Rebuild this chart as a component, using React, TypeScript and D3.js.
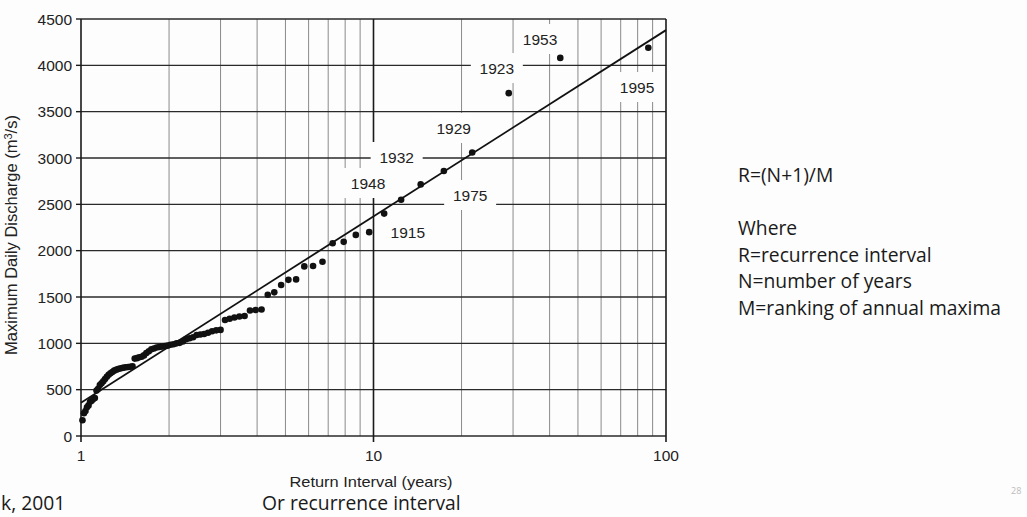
import React from 'react';
import * as d3 from 'd3';

// annual maximum daily discharge (m3/s), ranked largest first (M = 1..N)
const discharge = [
  4190, 4080, 3700, 3060, 2860, 2715, 2550, 2400, 2200, 2170,
  2095, 2080, 1880, 1835, 1830, 1690, 1685, 1630, 1550, 1525,
  1365, 1360, 1355, 1295, 1290, 1278, 1265, 1252, 1145, 1140,
  1130, 1115, 1100, 1095, 1090, 1065, 1055, 1045, 1020, 1005,
  1000, 990, 985, 975, 970, 965, 960, 955, 945, 935,
  915, 895, 870, 855, 850, 840, 835, 752, 748, 745,
  742, 738, 734, 728, 722, 715, 705, 690, 676, 660,
  640, 615, 590, 570, 550, 510, 490, 410, 400, 380,
  370, 330, 310, 270, 245, 170,
];
const nYears = discharge.length;

// fitted line: Q = a + b * log10(T)
const fitIntercept = 360;
const fitSlope = 2010;

const yTicks = [0, 500, 1000, 1500, 2000, 2500, 3000, 3500, 4000, 4500];
const xMajor = [1, 10, 100];
const xMinor = [2, 3, 4, 5, 6, 7, 8, 9, 20, 30, 40, 50, 60, 70, 80, 90];

// year annotations, anchored in data units (return interval, discharge)
const labelYears = ['1953', '1923', '1995', '1929', '1932', '1948', '1975', '1915'];
const labelT = [37.1, 26.4, 79.6, 18.8, 12.0, 9.58, 21.4, 13.1];
const labelQ = [4284, 3971, 3766, 3324, 3011, 2730, 2601, 2201];

const notes = [
  'Where',
  'R=recurrence interval',
  'N=number of years',
  'M=ranking of annual maxima',
];

const W = 1027;
const H = 517;
const chartFont = '"Liberation Sans", Arial, sans-serif';
const slideFont = '"Open Sans", "Noto Sans", sans-serif';

export default function App() {
  const x = d3.scaleLog().domain([1, 100]).range([81, 666]);
  const y = d3.scaleLinear().domain([0, 4500]).range([436, 19]);

  const points = discharge.map((q, i) => ({ t: (nYears + 1) / (i + 1), q }));

  const fitLine = d3.line<number>()
    .x(t => x(t))
    .y(t => y(fitIntercept + fitSlope * Math.log10(t)));

  const [x0, x1] = x.range();
  const [y0, y1] = y.range();

  return (
    <svg width={W} height={H} style={{ position: 'absolute', left: 0, top: 0, background: '#fdfdfd' }}>
      <rect width={W} height={H} fill="#fdfdfd" />

      {/* minor vertical grid */}
      {xMinor.map(v => (
        <line key={'vm' + v} x1={x(v)} x2={x(v)} y1={y1} y2={y0} stroke="#8a8a8a" strokeWidth={1} />
      ))}
      {/* horizontal grid */}
      {yTicks.map(v => (
        <line key={'h' + v} x1={x0} x2={x1} y1={y(v)} y2={y(v)} stroke="#2a2a2a" strokeWidth={1.4} />
      ))}
      {/* decade lines */}
      {xMajor.map(v => (
        <line key={'vM' + v} x1={x(v)} x2={x(v)} y1={y1} y2={y0} stroke="#1a1a1a" strokeWidth={1.6} />
      ))}

      {/* label knock-outs */}
      {labelYears.map((yr, i) => (
        <rect key={'b' + yr} x={x(labelT[i]) - 26} y={y(labelQ[i]) - 15} width={52} height={30} fill="#fdfdfd" />
      ))}

      {/* y ticks */}
      {yTicks.map(v => (
        <g key={'yt' + v}>
          <line x1={x0 - 5} x2={x0} y1={y(v)} y2={y(v)} stroke="#1a1a1a" strokeWidth={1.4} />
          <text x={x0 - 9} y={y(v)} dy="0.36em" textAnchor="end" fontFamily={chartFont} fontSize={15.5} fill="#222">
            {v}
          </text>
        </g>
      ))}
      {/* x ticks */}
      {xMajor.map(v => (
        <g key={'xt' + v}>
          <line x1={x(v)} x2={x(v)} y1={y0} y2={y0 + 6} stroke="#1a1a1a" strokeWidth={1.6} />
          <text x={x(v)} y={y0 + 25} textAnchor="middle" fontFamily={chartFont} fontSize={15.5} fill="#222">
            {v}
          </text>
        </g>
      ))}

      {/* fitted line */}
      <path d={fitLine([1, 100]) ?? ''} fill="none" stroke="#111" strokeWidth={1.8} />

      {/* observations */}
      {points.map((p, i) => (
        <circle key={'p' + i} cx={x(p.t)} cy={y(p.q)} r={3.3} fill="#111" />
      ))}

      {/* year labels */}
      {labelYears.map((yr, i) => (
        <text key={'l' + yr} x={x(labelT[i])} y={y(labelQ[i])} dy="0.36em" textAnchor="middle"
          fontFamily={chartFont} fontSize={15.5} fill="#222">
          {yr}
        </text>
      ))}

      {/* axis titles */}
      <text x={371} y={487} textAnchor="middle" fontFamily={chartFont} fontSize={15} fill="#222"
        textLength={163} lengthAdjust="spacingAndGlyphs">
        Return Interval (years)
      </text>
      <text transform="translate(17,235) rotate(-90)" textAnchor="middle" fontFamily={chartFont} fontSize={16.5} fill="#222">
        Maximum Daily Discharge (m<tspan dy={-5} fontSize={11}>3</tspan><tspan dy={5}>/s)</tspan>
      </text>

      {/* slide text */}
      <text x={738} y={182} fontFamily={slideFont} fontSize={19.3} fill="#1a1a1a">R=(N+1)/M</text>
      {notes.map((n, i) => (
        <text key={n} x={738} y={235 + i * 26.7} fontFamily={slideFont} fontSize={19.3} fill="#1a1a1a">
          {n}
        </text>
      ))}
      <text x={1} y={510} fontFamily={slideFont} fontSize={19.3} fill="#1a1a1a">k, 2001</text>
      <text x={262} y={510} fontFamily={slideFont} fontSize={19.3} fill="#1a1a1a">Or recurrence interval</text>
      <text x={1011} y={494} fontFamily={slideFont} fontSize={9} fill="#bbbbbb">28</text>
    </svg>
  );
}
